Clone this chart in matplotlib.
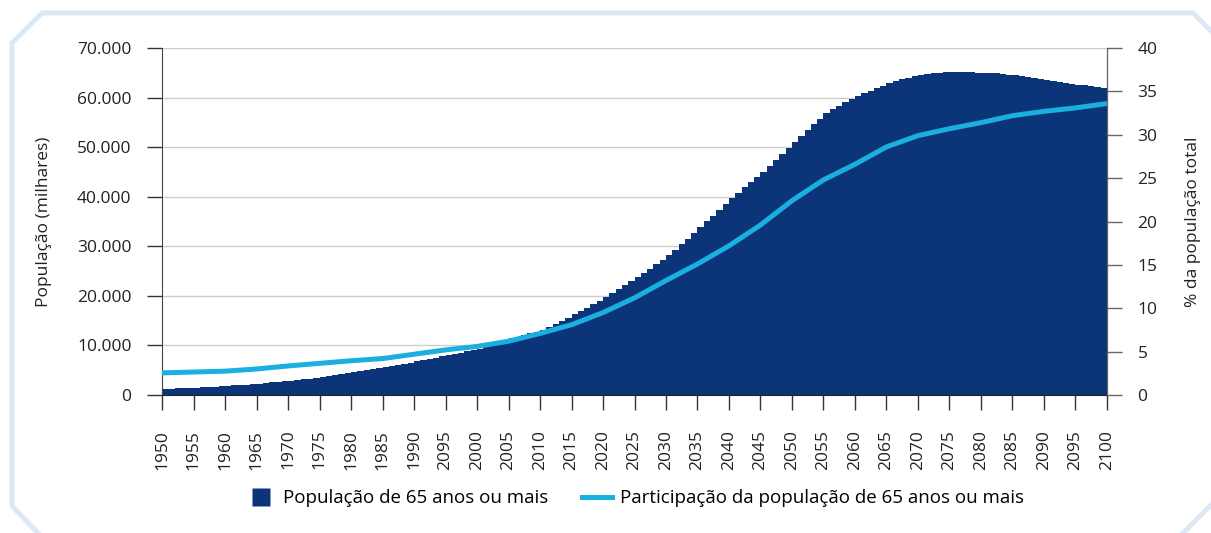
import matplotlib
matplotlib.use('Agg')
import matplotlib.pyplot as plt
from matplotlib.lines import Line2D

plt.rcParams['font.family'] = ['Open Sans', 'DejaVu Sans']

# População de 65 anos ou mais (milhares), 1950-2100
years = list(range(1950, 2101))
pop_65 = [
    1.20, 1.26, 1.32, 1.38, 1.44, 1.50, 1.57, 1.64, 1.71, 1.78,
    1.85, 1.93, 2.02, 2.11, 2.20, 2.30, 2.41, 2.53, 2.65, 2.77,
    2.90, 3.03, 3.16, 3.30, 3.45, 3.60, 3.78, 3.97, 4.17, 4.38,
    4.60, 4.79, 4.99, 5.19, 5.39, 5.60, 5.83, 6.06, 6.30, 6.54,
    6.80, 7.03, 7.27, 7.52, 7.77, 8.02, 8.27, 8.52, 8.78, 9.04,
    9.30, 9.70, 10.10, 10.50, 10.95, 11.40, 11.75, 12.10, 12.45, 12.80,
    13.20, 13.75, 14.30, 14.90, 15.60, 16.30, 16.95, 17.65, 18.35, 19.05,
    19.80, 20.55, 21.35, 22.15, 22.95, 23.80, 24.65, 25.50, 26.40, 27.30,
    28.20, 29.30, 30.40, 31.55, 32.70, 33.90, 35.05, 36.20, 37.35, 38.50,
    39.70, 40.80, 41.90, 42.95, 44.00, 45.05, 46.20, 47.40, 48.60, 49.80,
    51.00, 52.20, 53.40, 54.60, 55.70, 56.80, 57.60, 58.40, 59.10, 59.70,
    60.30, 60.85, 61.40, 61.90, 62.40, 62.90, 63.30, 63.70, 64.05, 64.35,
    64.60, 64.80, 64.95, 65.05, 65.10, 65.12, 65.12, 65.10, 65.08, 65.05,
    65.00, 64.95, 64.88, 64.78, 64.65, 64.50, 64.32, 64.12, 63.92, 63.72,
    63.50, 63.32, 63.14, 62.96, 62.78, 62.60, 62.45, 62.28, 62.12, 61.96,
    61.80,
]
pop_65 = [v * 1000 for v in pop_65]

# Participação (% da população total), a cada 5 anos
share_years = list(range(1950, 2101, 5))
share_65 = [
    2.55, 2.65, 2.75, 3.0, 3.35, 3.65, 3.95, 4.2, 4.7, 5.2,
    5.6, 6.2, 7.1, 8.1, 9.5, 11.2, 13.2, 15.1, 17.2, 19.6,
    22.4, 24.8, 26.6, 28.6, 29.9, 30.7, 31.4, 32.2, 32.7, 33.1,
    33.6,
]

tick_years = list(range(1950, 2101, 5))
tick_labels = [str(y) for y in tick_years]
tick_labels[9] = '2095'  # como no original

navy = '#0b3578'
light_blue = '#1aafdf'
frame_col = '#dce8f5'

fig = plt.figure(figsize=(12.11, 5.33), dpi=100)
ax = fig.add_axes([0.1338, 0.2589, 0.7803, 0.651])
ax2 = ax.twinx()

ax.bar(years, pop_65, width=1.0, align='edge', color=navy, linewidth=0, zorder=2)
ax2.plot(share_years, share_65, color=light_blue, lw=3.6, solid_capstyle='butt', zorder=3)

ax.set_xlim(1950, 2100)
ax.set_ylim(0, 70000)
ax2.set_ylim(0, 40)
ax.set_yticks(range(0, 70001, 10000))
ax.set_yticklabels([f'{v:,.0f}'.replace(',', '.') for v in range(0, 70001, 10000)])
ax2.set_yticks(range(0, 41, 5))
ax.set_xticks(tick_years)
ax.set_xticklabels(tick_labels, rotation=90)

ax.grid(axis='y', color='#cccccc', lw=1, zorder=0)
ax.set_axisbelow(True)

for a in (ax, ax2):
    a.spines['top'].set_visible(False)
ax.spines['left'].set_color('#444444')
ax.spines['bottom'].set_color('#222222')
ax2.spines['right'].set_color('#666666')
ax2.spines['left'].set_visible(False)
ax2.spines['bottom'].set_visible(False)

ax.tick_params(axis='y', length=11, width=1, color='#333333', pad=11, labelsize=12.5, labelcolor='#222222')
ax.tick_params(axis='x', length=11, width=1, color='#333333', pad=14, labelsize=12.5, labelcolor='#222222')
ax2.tick_params(axis='y', length=11, width=1, color='#666666', pad=11, labelsize=12.5, labelcolor='#222222')

ax.set_ylabel('População (milhares)', fontsize=12.5, color='#222222')
ax.yaxis.set_label_coords(-0.1164, 0.5)
ax2.set_ylabel('% da população total', fontsize=12.5, color='#222222')
ax2.yaxis.set_label_coords(1.0825, 0.5)

handles = [Line2D([0], [0], ls='none', marker='s', markersize=13,
                  markerfacecolor=navy, markeredgecolor='none'),
           Line2D([0], [0], color=light_blue, lw=3.6)]
fig.legend(handles, ['População de 65 anos ou mais',
                     'Participação da população de 65 anos ou mais'],
           loc='center', bbox_to_anchor=(0.524, 0.065), ncol=2, frameon=False,
           fontsize=13.5, handlelength=1.6, columnspacing=1.8,
           handletextpad=0.4)

# moldura com cantos chanfrados
W, H = 1211, 533
def px(x, y):
    return x / W, 1 - y / H
pts = [(38, 533), (12, 506), (12, 43), (42, 13), (1193, 13), (1211, 31)]
fig.add_artist(Line2D([px(*p)[0] for p in pts], [px(*p)[1] for p in pts],
                      color=frame_col, lw=3.6, transform=fig.transFigure))
br = [(1211, 505), (1183, 533)]
fig.add_artist(Line2D([px(*p)[0] for p in br], [px(*p)[1] for p in br],
                      color=frame_col, lw=3.6, transform=fig.transFigure))

fig.savefig('out.png', dpi=100)
